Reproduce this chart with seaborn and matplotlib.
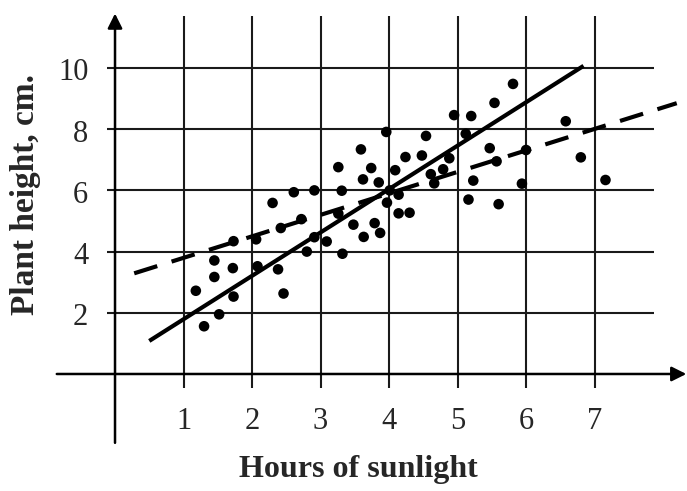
import numpy as np
import pandas as pd
import seaborn as sns
import matplotlib.pyplot as plt

### Data
hours = [2.30, 2.72, 2.42, 1.73, 2.06, 2.91, 3.09, 3.26, 3.48, 3.63,
         3.79, 3.87, 3.97, 4.14, 2.80, 3.32, 1.45, 1.72, 1.45, 2.08,
         2.38, 1.18, 1.73, 2.46, 1.52, 1.30, 3.96, 4.54, 3.59, 3.26,
         3.74, 4.24, 4.48, 4.09, 3.62, 3.85, 4.79, 4.61, 4.66, 2.91,
         3.31, 4.14, 4.30, 5.81, 5.54, 4.95, 5.20, 6.58, 5.12, 4.88,
         5.47, 5.57, 6.00, 5.23, 5.94, 6.80, 7.16, 5.16, 5.60, 2.61,
         4.01]
height = [5.59, 5.06, 4.77, 4.34, 4.40, 4.47, 4.33, 5.24, 4.88, 4.48,
          4.93, 4.61, 5.60, 5.25, 4.00, 3.93, 3.71, 3.46, 3.17, 3.52,
          3.42, 2.72, 2.53, 2.63, 1.95, 1.56, 7.91, 7.78, 7.34, 6.76,
          6.73, 7.09, 7.14, 6.66, 6.36, 6.26, 6.69, 6.53, 6.23, 6.00,
          5.99, 5.86, 5.27, 9.48, 8.86, 8.46, 8.43, 8.26, 7.85, 7.05,
          7.38, 6.95, 7.32, 6.32, 6.22, 7.08, 6.34, 5.70, 5.55, 5.94,
          6.00]

## fitted lines (end points)
solid_x = [0.50, 6.84]
solid_y = [1.08, 10.07]
dashed_x = [0.28, 8.20]
dashed_y = [3.29, 8.85]

x_ticks = [1, 2, 3, 4, 5, 6, 7]
y_ticks = [2, 4, 6, 8, 10]

df = pd.DataFrame({'hours': hours, 'height': height})

### Style
sns.set_style("white")
plt.rcParams['font.family'] = ['Liberation Serif', 'DejaVu Serif']

fig = plt.figure(figsize=(6.87, 4.91), dpi=100)
ax = fig.add_axes([0, 0, 1, 1])
ax.set_xlim(-1.679, 8.350)
ax.set_ylim(-3.824, 12.222)
ax.axis('off')

## Grid
ax.vlines(x_ticks, -0.46, 11.7, color='#1a1a1a', linewidth=1.5, zorder=1)
ax.hlines(y_ticks, -0.12, 7.87, color='#1a1a1a', linewidth=1.5, zorder=1)

## Axes with arrows
ax.annotate('', xy=(0, 11.78), xytext=(0, -2.25),
            arrowprops=dict(arrowstyle='-|>', color='black', lw=1.8,
                            mutation_scale=22, shrinkA=0, shrinkB=0))
ax.annotate('', xy=(8.34, 0), xytext=(-0.85, 0),
            arrowprops=dict(arrowstyle='-|>', color='black', lw=1.8,
                            mutation_scale=22, shrinkA=0, shrinkB=0))

## Points and lines
sns.scatterplot(data=df, x='hours', y='height', ax=ax, color='black',
                s=58, edgecolor='none', zorder=3, legend=False)
sns.lineplot(x=solid_x, y=solid_y, ax=ax, color='black', linewidth=3.0,
             solid_capstyle='butt', zorder=4)
dash_line = sns.lineplot(x=dashed_x, y=dashed_y, ax=ax, color='black',
                         linewidth=3.0, zorder=4).lines[-1]
dash_line.set_dashes((5.8, 3.6))
dash_line.set_dash_capstyle('butt')

## Tick labels
for t in x_ticks:
    ax.text(t, -1.54, str(t), ha='center', va='center', fontsize=22)
for t in y_ticks:
    ax.text(-0.39, t - 0.16, str(t), ha='right', va='center', fontsize=22)

## Axis titles
ax.text(3.55, -3.12, 'Hours of sunlight', ha='center', va='center',
        fontsize=23, fontweight='bold')
ax.text(-1.31, 5.85, 'Plant height, cm.', ha='center', va='center',
        fontsize=24, fontweight='bold', rotation=90)

fig.savefig('out.png', dpi=100)
plt.close()
